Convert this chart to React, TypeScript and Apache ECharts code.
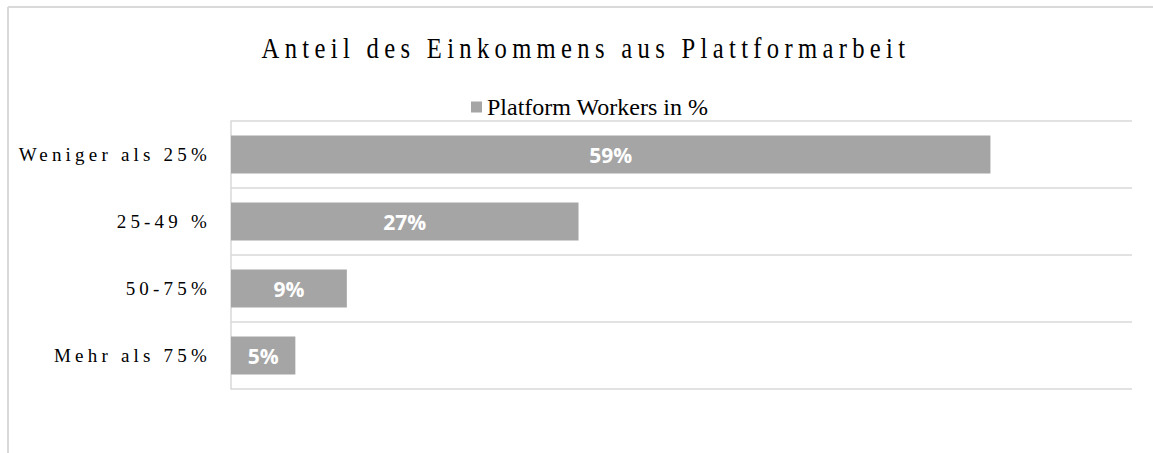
import React, { useEffect, useRef } from "react";
import * as echarts from "echarts";

const TITLE = "Anteil des Einkommens aus Plattformarbeit";
const SERIES_NAME = "Platform Workers in %";
const categories = ["Weniger als 25%", "25-49 %", "50-75%", "Mehr als 75%"];
const values = [59, 27, 9, 5];

const CSS = `
text[style*="Tinos"] { letter-spacing: 4.2px; }
text[style*="Tiro"] { letter-spacing: 6.5px; }
`;

export default function App() {
  const ref = useRef<HTMLDivElement>(null);
  useEffect(() => {
    if (!ref.current) return;
    const chart = echarts.init(ref.current, undefined, { renderer: "svg" });
    chart.setOption({
      animation: false,
      backgroundColor: "#ffffff",
      graphic: [
        {
          type: "line",
          shape: { x1: 8, y1: 7, x2: 1153, y2: 7 },
          style: { stroke: "#d9d9d9", lineWidth: 2 },
        },
        {
          type: "line",
          shape: { x1: 8, y1: 7, x2: 8, y2: 453 },
          style: { stroke: "#d9d9d9", lineWidth: 2 },
        },
        {
          type: "text",
          x: 586,
          y: 48,
          scaleX: 0.82,
          style: {
            text: TITLE,
            x: 0,
            y: 0,
            textAlign: "center",
            textVerticalAlign: "middle",
            fontSize: 30,
            fontFamily: "Liberation Serif, Tiro",
            fill: "#000000",
          },
        },
      ],
      legend: {
        left: 466,
        top: 90,
        itemWidth: 11,
        itemHeight: 11,
        icon: "rect",
        data: [SERIES_NAME],
        textStyle: {
          fontFamily: "Liberation Serif",
          fontSize: 24,
          color: "#000000",
        },
      },
      grid: { left: 231, top: 121, right: 21, bottom: 64, containLabel: false },
      xAxis: { type: "value", min: 0, max: 70, show: false },
      yAxis: {
        type: "category",
        data: categories,
        inverse: true,
        axisLine: { show: true, lineStyle: { color: "#d9d9d9", width: 1.5 } },
        axisTick: { show: false },
        splitLine: { show: true, interval: 0, lineStyle: { color: "#d9d9d9", width: 1.5 } },
        axisLabel: {
          margin: 20,
          interval: 0,
          fontSize: 19,
          fontFamily: "Liberation Serif, Tinos",
          color: "#000000",
        },
      },
      series: [
        {
          name: SERIES_NAME,
          type: "bar",
          data: values,
          barWidth: 38,
          itemStyle: { color: "#a5a5a5" },
          label: {
            show: true,
            position: "inside",
            formatter: "{c}%",
            color: "#ffffff",
            fontWeight: "bold",
            fontSize: 21,
            fontFamily: "Open Sans",
          },
        },
      ],
    });
    return () => chart.dispose();
  }, []);
  return (
    <>
      <style>{CSS}</style>
      <div
        ref={ref}
        style={{ position: "absolute", left: 0, top: 0, width: 1153, height: 453 }}
      />
    </>
  );
}
